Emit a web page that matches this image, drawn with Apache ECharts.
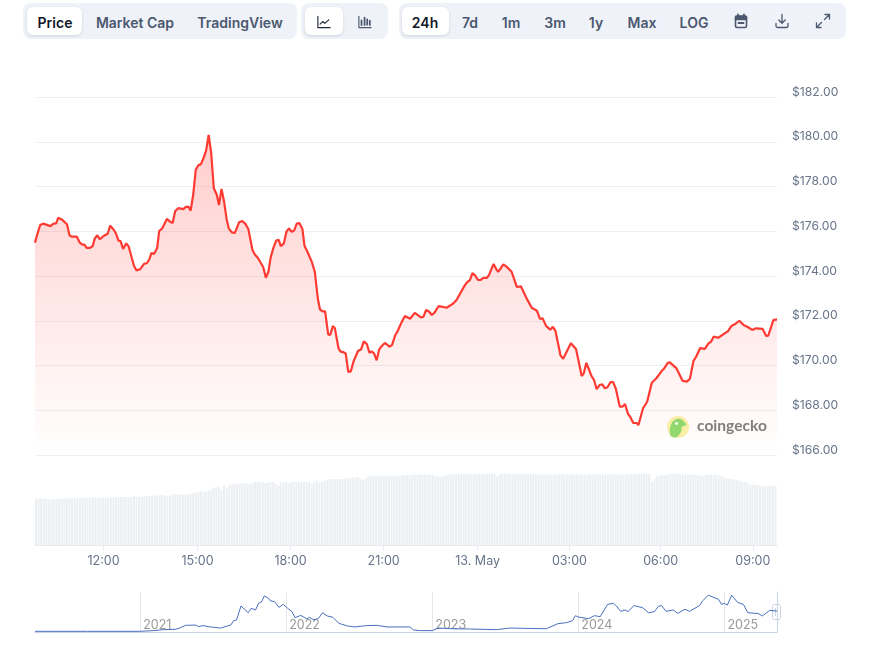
<!DOCTYPE html>
<html>
<head>
<meta charset="utf-8">
<title>Price chart</title>
<style>
  html, body { margin: 0; padding: 0; background: #fff; }
  #chart { position: absolute; left: 0; top: 0; width: 879px; height: 650px; }
  .group { position: absolute; top: 3px; height: 36px; background: #eff2f8; border-radius: 8px; z-index: 2; }
  .btn { position: absolute; top: 19px; transform: translate(-50%, -50%); font: 600 14px Inter, sans-serif; color: #4b5870; white-space: nowrap; }
  .group .btn { top: 19px; }
  .on { position: absolute; top: 4px; height: 28px; background: #fff; border-radius: 6px; box-shadow: 0 1px 3px rgba(15, 23, 42, 0.14); }
  .active { color: #111827; }
  svg.icon { position: absolute; top: 10px; width: 16px; height: 16px; fill: none; stroke: #4b5870; stroke-width: 1.3; stroke-linecap: round; stroke-linejoin: round; }
  svg.small { top: 12px; width: 14px; height: 14px; }
  #logo { position: absolute; left: 667px; top: 416px; width: 22px; height: 22px; z-index: 2; }
</style>
</head>
<body>
<div id="chart"></div>
<svg id="logo" viewBox="667 416 22 22">
  <circle cx="678" cy="427" r="11" fill="#f8eea6"/>
  <path d="M670.5 436C668.5 429 671 420 677 419C681 418 684.5 421 686.5 425L681.5 427C682.5 431 679.5 435.5 676 437.5C674 437.5 672 437 670.5 436Z" fill="#93d86e"/>
  <circle cx="676.5" cy="423.5" r="1.4" fill="#fff"/>
</svg>

<div class="group" style="left:23px;width:274px">
  <div class="on" style="left:4px;width:55px"></div>
  <div class="btn active" style="left:32px">Price</div>
  <div class="btn" style="left:112px">Market Cap</div>
  <div class="btn" style="left:217px">TradingView</div>
</div>
<div class="group" style="left:301px;width:87px">
  <div class="on" style="left:4px;width:38px"></div>
  <svg class="icon small" style="left:16px" viewBox="0 0 16 16"><path d="M1 1.5V14.5H15" stroke="#1f2937"/><path d="M3.5 10.5L6.5 7.5L9 9.5L13.5 5.5" stroke="#1f2937"/></svg>
  <svg class="icon small" style="left:57px" viewBox="0 0 16 16"><path d="M1 1.5V14.5H15"/><path d="M4 6V11.5M7.5 3V11.5M10.5 5V11M13.5 6.5V11.5" stroke-width="2"/></svg>
</div>
<div class="group" style="left:399px;width:447px">
  <div class="on" style="left:3px;width:47px"></div>
  <div class="btn active" style="left:26px">24h</div>
  <div class="btn" style="left:71px">7d</div>
  <div class="btn" style="left:112px">1m</div>
  <div class="btn" style="left:156px">3m</div>
  <div class="btn" style="left:197px">1y</div>
  <div class="btn" style="left:243px">Max</div>
  <div class="btn" style="left:295px">LOG</div>
  <svg class="icon" style="left:334px" viewBox="0 0 16 16"><rect x="2.5" y="3" width="11" height="11.5" rx="1.5" stroke-width="1.6"/><path d="M2.5 3.5H13.5V6.5H2.5Z" fill="#4b5870"/><path d="M5 1.5V3M11 1.5V3M5.5 10H10.5" stroke-width="1.8"/></svg>
  <svg class="icon" style="left:375px" viewBox="0 0 16 16"><path d="M8 1.5V10M4.8 7L8 10.2L11.2 7M2 10.5V13A1.5 1.5 0 0 0 3.5 14.5H12.5A1.5 1.5 0 0 0 14 13V10.5"/></svg>
  <svg class="icon" style="left:416px" viewBox="0 0 16 16"><path d="M9.5 6.5L14.5 1.5M10 1.5H14.5V6M6.5 9.5L1.5 14.5M1.5 10V14.5H6"/></svg>
</div>

<script src="https://cdn.jsdelivr.net/npm/echarts@6/dist/echarts.min.js"></script>
<script>
// x axis runs in hours counted from 00:00 on 12 May, the window opens at 09:47
const START_HOUR = 9 + 47 / 60;

// minutes after the window opens
const priceMinutes = [
  0, 4, 10, 16, 30, 36, 41, 45, 52, 62, 67, 71,
  81, 87, 92, 96, 100, 107, 112, 116, 121, 126, 133, 141,
  146, 152, 157, 162, 166, 171, 177, 182, 188, 192, 197, 204,
  212, 217, 222, 226, 231, 237, 241, 247, 256, 262, 267, 272,
  278, 288, 292, 298, 302, 307, 312, 317, 322, 327, 332, 337,
  342, 347, 353, 357, 362, 367, 372, 376, 382, 388, 396, 402,
  408, 414, 422, 427, 433, 443, 448, 453, 457, 462, 468, 473,
  477, 483, 488, 493, 498, 503, 508, 513, 519, 523, 528, 537,
  543, 549, 553, 558, 563, 569, 573, 578, 582, 589, 593, 598,
  603, 608, 613, 618, 627, 633, 638, 644, 649, 653, 658, 663,
  668, 673, 679, 688, 693, 699, 703, 712, 718, 728, 737, 749,
  754, 759, 765, 770, 775, 783, 789, 799, 812, 818, 834, 839,
  844, 849, 854, 860, 865, 870, 877, 881, 890, 895, 899, 909,
  915, 925, 935, 943, 954, 964, 974, 980, 985, 992, 1000, 1005,
  1010, 1020, 1025, 1040, 1050, 1061, 1065, 1070, 1080, 1085, 1090, 1096,
  1101, 1106, 1111, 1117, 1122, 1127, 1135, 1140, 1145, 1151, 1155, 1161,
  1168, 1171, 1180, 1188, 1197, 1206, 1216, 1221, 1228, 1232, 1245, 1257,
  1265, 1271, 1278, 1283, 1291, 1300, 1307, 1312, 1317, 1326, 1345, 1352,
  1358, 1367, 1375, 1384, 1392, 1399, 1412, 1419, 1423, 1433, 1440,
];

const priceValues = [
  175.49, 175.83, 176.28, 176.34, 176.23, 176.34, 176.35, 176.60, 176.53, 176.31, 175.82, 175.76,
  175.76, 175.49, 175.40, 175.40, 175.26, 175.26, 175.34, 175.68, 175.82, 175.64, 175.79, 175.89,
  176.25, 176.09, 175.91, 175.58, 175.56, 175.21, 175.46, 175.31, 174.79, 174.46, 174.25, 174.30,
  174.55, 174.57, 174.75, 175.03, 174.98, 175.24, 176.01, 176.13, 176.55, 176.43, 176.37, 176.90,
  177.03, 176.99, 177.08, 177.10, 176.92, 177.62, 178.75, 178.95, 179.00, 179.26, 179.60, 180.31,
  179.48, 177.92, 177.62, 177.17, 177.89, 177.32, 176.53, 176.13, 175.95, 175.93, 176.40, 176.46,
  176.34, 176.10, 175.16, 174.95, 174.79, 174.39, 173.92, 174.19, 174.79, 175.21, 175.58, 175.62,
  175.33, 175.46, 175.98, 176.13, 175.97, 176.04, 176.34, 176.37, 176.10, 175.35, 175.12, 174.64,
  174.19, 172.97, 172.51, 172.42, 172.42, 171.39, 171.36, 171.76, 171.66, 170.77, 170.62, 170.60,
  170.54, 169.71, 169.74, 170.17, 170.66, 170.72, 171.08, 170.96, 170.57, 170.63, 170.54, 170.23,
  170.72, 170.87, 171.01, 170.84, 170.92, 171.35, 171.50, 171.96, 172.21, 172.09, 172.35, 172.15,
  172.18, 172.48, 172.40, 172.26, 172.35, 172.65, 172.63, 172.58, 172.78, 172.93, 173.58, 173.73,
  173.82, 174.13, 174.03, 173.82, 173.83, 173.92, 173.92, 174.04, 174.54, 174.31, 174.18, 174.52,
  174.42, 174.19, 173.51, 173.54, 173.00, 172.58, 172.45, 172.08, 172.11, 171.76, 171.60, 171.73,
  171.55, 170.44, 170.30, 170.99, 170.74, 169.53, 169.65, 170.12, 169.53, 169.35, 168.94, 169.13,
  169.16, 168.98, 169.03, 169.26, 169.26, 168.98, 168.16, 168.16, 168.28, 167.83, 167.71, 167.43,
  167.43, 167.33, 168.09, 168.38, 169.23, 169.43, 169.75, 169.87, 170.12, 170.14, 169.87, 169.31,
  169.28, 169.41, 170.21, 170.39, 170.78, 170.74, 170.99, 171.06, 171.29, 171.24, 171.54, 171.78,
  171.84, 172.00, 171.81, 171.71, 171.59, 171.66, 171.64, 171.32, 171.33, 172.03, 172.06,
];

// one bar every 5 minutes, no scale on the picture so the unit is arbitrary
const volumeValues = [
  46.3, 46.3, 46.3, 46.3, 46, 45.7, 45.5, 45.7, 46, 46.3, 46.5, 46.3,
  46.6, 47, 46.7, 46.6, 46.8, 47.2, 47.3, 47.3, 47.3, 47.6, 48, 47.6,
  47.3, 47.3, 47.5, 47.3, 47.3, 47.6, 48, 47.6, 47.8, 48, 48, 48,
  48, 48.3, 49, 48.3, 48.5, 48.3, 48.3, 48.8, 49.2, 49.2, 49.3, 49.5,
  49.8, 50, 49.5, 49, 49.5, 50.3, 50.7, 50.5, 50.3, 50.6, 50.6, 51,
  51.5, 52, 52.5, 53.3, 53.7, 53.3, 53, 54.7, 55, 57, 58, 58,
  55, 59.3, 56.5, 60.3, 60.5, 61, 61, 61.5, 62, 62, 61.3, 61.3,
  61.5, 63, 63, 63, 63, 62, 62.3, 63, 63, 61.3, 59.3, 62.5,
  63, 63, 61.5, 63, 63, 63, 63, 63, 63, 63, 63, 61.3,
  63, 64.3, 62, 63.5, 64.5, 65.3, 66, 66, 66, 66, 66, 66,
  66.3, 67, 66.5, 67.5, 68, 68, 66, 65.3, 67, 68.7, 69, 69.3,
  69.3, 69.3, 69.3, 69.3, 69.3, 69.3, 69.3, 69.3, 69.5, 69.3, 69.6, 70.3,
  70, 69.6, 70.3, 70.3, 70.3, 70.5,
  70.3, 70.3, 70.5, 70.5, 70.3, 69, 68.5, 68.5, 68.7, 70.3, 70.3, 71,
  70.6, 71, 71, 71, 71, 71, 71, 71, 70.8, 71, 71, 71,
  71, 71, 71, 71, 71, 68.7, 71, 71.3, 71.3, 71.3, 71.3, 71,
  71.3, 71, 71, 71, 71.3, 71, 71, 71, 70.6, 70.6, 70.7, 70.7,
  70.5, 70.5, 70.7, 70.7, 70.7, 70.5, 70.7, 70.7, 70.7, 70.5, 70.7, 70.7,
  70.7, 70.7, 70.5, 70.5, 70.7, 70.7, 70.7, 70.7, 70.7, 70.5, 70.7, 70.7,
  70.7, 70.7, 70.7, 70.7, 70.7, 70.5, 70.7, 70.7, 70.7, 70.7, 70.7, 71,
  71, 71, 71, 71.3, 71.3, 62.7, 66, 68.7, 69.5, 69.8, 70, 70.5,
  71.2, 71.3, 71.3, 71.3, 71.3, 70.5, 70.3, 70.5, 70.5, 70.5, 70.3, 70.3,
  69.5, 69.3, 70, 70.3, 70.3, 70.3, 70.2, 69.5, 68.7, 68, 67, 66,
  66, 65.5, 65.3, 64.5, 63.5, 63, 62.5, 60.5, 60.3, 60.3, 60, 59,
  58.7, 58.7, 59.3, 59.3, 59.3, 59.3,
];

// the original axis is ordinal, so its ticks sit a little off the even 3 hour steps
const tickHours = [12, 15.04, 18.05, 21.06, 24.1, 27.07, 30.02, 33];
const tickLabels = ['12:00', '15:00', '18:00', '21:00', '13. May', '03:00', '06:00', '09:00'];

const navYears = [
  2020.28, 2020.64, 2021.0, 2021.09, 2021.16, 2021.24, 2021.27, 2021.31, 2021.38, 2021.40, 2021.43, 2021.48,
  2021.55, 2021.62, 2021.64, 2021.66, 2021.69, 2021.74, 2021.76, 2021.79, 2021.81, 2021.83, 2021.85, 2021.88,
  2021.89, 2021.92, 2021.95, 2021.98, 2022.01, 2022.04, 2022.06, 2022.10, 2022.14, 2022.16, 2022.19, 2022.22,
  2022.25, 2022.28, 2022.32, 2022.36, 2022.42, 2022.47, 2022.55, 2022.62, 2022.69, 2022.85, 2022.87, 2022.92,
  2023.0, 2023.04, 2023.14, 2023.26, 2023.44, 2023.53, 2023.78, 2023.86, 2023.92, 2023.96, 2023.98, 2024.0,
  2024.07, 2024.11, 2024.15, 2024.20, 2024.24, 2024.26, 2024.29, 2024.32, 2024.34, 2024.38, 2024.44, 2024.48,
  2024.52, 2024.55, 2024.57, 2024.60, 2024.65, 2024.68, 2024.73, 2024.76, 2024.83, 2024.85, 2024.89, 2024.96,
  2024.98, 2025.0, 2025.02, 2025.05, 2025.09, 2025.13, 2025.16, 2025.21, 2025.23, 2025.26, 2025.31, 2025.36,
];

const navValues = [
  5, 5, 5, 10, 17, 20, 29, 49, 51, 39, 47, 37,
  29, 51, 83, 88, 191, 142, 174, 162, 211, 220, 265, 247,
  230, 223, 181, 203, 174, 149, 105, 122, 96, 108, 88, 100,
  142, 118, 108, 64, 44, 37, 47, 49, 37, 37, 15, 10,
  10, 29, 24, 22, 17, 29, 24, 61, 69, 83, 120, 110,
  98, 120, 113, 203, 211, 191, 152, 162, 149, 194, 179, 142,
  149, 191, 194, 152, 162, 137, 167, 152, 194, 228, 270, 240,
  203, 211, 198, 270, 218, 203, 142, 137, 137, 118, 159, 154,
];
const navTicks = [2021, 2022, 2023, 2024, 2025];

const GRID_LINE = '#eef0f3';
const AXIS_TEXT = '#677489';
const END_HOUR = START_HOUR + 24;

const priceData = priceMinutes.map((m, i) => [START_HOUR + m / 60, priceValues[i]]);
const volumeData = volumeValues.map((v, i) => [START_HOUR + (i * 5 + 2) / 60, v]);
const navData = navYears.map((y, i) => [y, navValues[i]]);

const chart = echarts.init(document.getElementById('chart'));

chart.setOption({
  animation: false,
  backgroundColor: '#fff',
  textStyle: { fontFamily: 'Inter, sans-serif' },
  grid: [
    { left: 35, top: 97, width: 742, height: 358 },
    { left: 35, top: 465, width: 742, height: 80 },
    { left: 35, top: 592, width: 742, height: 40 },
  ],
  xAxis: [
    { type: 'value', gridIndex: 0, min: START_HOUR, max: END_HOUR, show: false },
    {
      type: 'value',
      gridIndex: 1,
      min: START_HOUR,
      max: END_HOUR,
      axisLine: { show: true, lineStyle: { color: '#e8ebef' } },
      axisTick: { show: true, length: 6, customValues: tickHours, lineStyle: { color: '#e8ebef' } },
      splitLine: { show: false },
      axisLabel: {
        customValues: tickHours,
        color: AXIS_TEXT,
        fontSize: 12.5,
        margin: 10,
        formatter: (value) => tickLabels[tickHours.indexOf(value)],
      },
    },
    {
      type: 'value',
      gridIndex: 2,
      position: 'top',
      min: 2020.28,
      max: 2025.36,
      axisLine: { show: true, lineStyle: { color: '#c9d5e6' } },
      axisTick: { show: false, customValues: navTicks },
      splitLine: { show: true, lineStyle: { color: '#e3e7ec' } },
      axisLabel: {
        customValues: navTicks,
        inside: true,
        color: '#9a9a9a',
        fontSize: 12.5,
        align: 'left',
        margin: 27,
        padding: [0, 0, 0, 3],
        formatter: (value) => String(value),
      },
    },
  ],
  yAxis: [
    {
      type: 'value',
      gridIndex: 0,
      position: 'right',
      min: 166,
      max: 182,
      interval: 2,
      axisLine: { show: false },
      axisTick: { show: false },
      splitLine: { lineStyle: { color: GRID_LINE } },
      axisLabel: {
        color: AXIS_TEXT,
        fontSize: 12.2,
        margin: 15,
        verticalAlign: 'bottom',
        lineHeight: 10,
        formatter: (value) => `$${value.toFixed(2)}`,
      },
    },
    { type: 'value', gridIndex: 1, min: 0, max: 80, show: false },
    {
      type: 'value',
      gridIndex: 2,
      position: 'right',
      min: 0,
      max: 294,
      axisLine: { show: true, lineStyle: { color: '#c9d5e6' } },
      axisTick: { show: false },
      axisLabel: { show: false },
      splitLine: { show: false },
    },
  ],
  series: [
    {
      type: 'line',
      xAxisIndex: 0,
      yAxisIndex: 0,
      data: priceData,
      showSymbol: false,
      smooth: false,
      lineStyle: { color: '#ff3a33', width: 2.2 },
      areaStyle: {
        origin: 'start',
        color: {
          type: 'linear', x: 0, y: 0, x2: 0, y2: 1,
          colorStops: [
            { offset: 0, color: 'rgba(255, 58, 51, 0.36)' },
            { offset: 1, color: 'rgba(255, 58, 51, 0)' },
          ],
        },
      },
    },
    {
      type: 'bar',
      xAxisIndex: 1,
      yAxisIndex: 1,
      data: volumeData,
      barWidth: 2.1,
      itemStyle: { color: '#edf0f3' },
    },
    {
      type: 'line',
      xAxisIndex: 2,
      yAxisIndex: 2,
      data: navData,
      showSymbol: false,
      lineStyle: { color: '#4a6fbe', width: 1 },
    },
  ],
  graphic: [
    {
      type: 'text',
      x: 697,
      y: 426,
      style: {
        text: 'coingecko',
        fill: '#808080',
        font: '700 15.6px Lato, sans-serif',
        verticalAlign: 'middle',
      },
    },
    {
      type: 'rect',
      shape: { x: 772.5, y: 604.5, width: 8, height: 15, r: 2 },
      style: { fill: '#fff', stroke: '#c9d5e6', lineWidth: 1 },
    },
    { type: 'line', shape: { x1: 775.5, y1: 608, x2: 775.5, y2: 616 }, style: { stroke: '#c9d5e6' } },
    { type: 'line', shape: { x1: 777.5, y1: 608, x2: 777.5, y2: 616 }, style: { stroke: '#c9d5e6' } },
  ],
});
</script>
</body>
</html>
